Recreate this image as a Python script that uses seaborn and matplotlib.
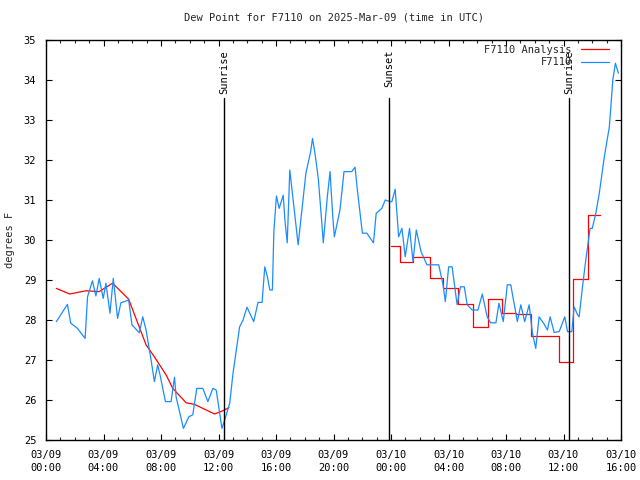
import matplotlib
matplotlib.use("Agg")
import matplotlib.pyplot as plt
import seaborn as sns
import numpy as np
from matplotlib.ticker import MultipleLocator

# ---------------- data (hours since 2025-03-09 00:00 UTC) ----------------
obs_hours = [0.72, 1.49, 1.72, 2.19, 2.72, 2.89, 3.23, 3.47, 3.70, 3.98, 4.17, 4.45, 4.68, 4.98,
             5.21, 5.75, 5.98, 6.49, 6.73, 6.96, 7.31, 7.54, 7.77, 7.93, 8.31, 8.70, 8.94, 9.05,
             9.56, 9.94, 10.21, 10.49, 10.91, 11.26, 11.61, 11.84, 12.24, 12.43, 12.78, 13.01,
             13.24, 13.47, 13.71, 13.98, 14.45, 14.75, 15.03, 15.22, 15.40, 15.57, 15.75, 15.85,
             16.03, 16.22, 16.50, 16.62, 16.78, 16.96, 17.19, 17.54, 17.78, 18.08, 18.41, 18.54,
             18.71, 18.94, 19.18, 19.29, 19.57, 19.76, 19.94, 20.06, 20.45, 20.73, 21.27, 21.50,
             21.66, 22.01, 22.32, 22.78, 22.97, 23.36, 23.60, 23.94, 24.06, 24.29, 24.53, 24.76,
             24.99, 25.29, 25.53, 25.76, 26.09, 26.50, 27.32, 27.62, 27.78, 28.01, 28.25, 28.60,
             28.83, 29.10, 29.30, 29.65, 30.05, 30.35, 30.69, 30.93, 31.30, 31.51, 31.81, 32.09,
             32.33, 32.79, 33.03, 33.30, 33.61, 33.84, 34.07, 34.30, 34.65, 34.88, 35.07, 35.35,
             35.70, 36.09, 36.28, 36.58, 36.74, 36.98, 37.09, 37.32, 37.55, 37.85, 38.00, 38.25,
             38.49, 38.84, 39.19, 39.43, 39.61, 39.82]
obs_values = [27.96, 28.39, 27.92, 27.79, 27.54, 28.58, 28.98, 28.60, 29.04, 28.54, 28.92, 28.17, 29.04, 28.04,
              28.43, 28.50, 27.88, 27.68, 28.08, 27.75, 27.00, 26.46, 26.88, 26.63, 25.96, 25.96, 26.57, 26.08,
              25.29, 25.58, 25.63, 26.29, 26.29, 25.96, 26.29, 26.25, 25.29, 25.50, 25.92, 26.67,
              27.25, 27.83, 28.00, 28.32, 27.96, 28.44, 28.44, 29.33, 29.08, 28.75, 28.75, 30.21,
              31.10, 30.79, 31.12, 30.50, 29.93, 31.75, 31.00, 29.88, 30.67, 31.67, 32.21, 32.54,
              32.17, 31.54, 30.46, 29.93, 31.08, 31.71, 30.63, 30.08, 30.75, 31.71, 31.71, 31.82,
              31.25, 30.17, 30.17, 29.93, 30.67, 30.79, 31.00, 30.96, 30.96, 31.27, 30.08, 30.29,
              29.58, 30.29, 29.46, 30.25, 29.71, 29.38, 29.38, 28.88, 28.46, 29.33, 29.33, 28.38,
              28.83, 28.83, 28.38, 28.25, 28.25, 28.65, 28.08, 27.93, 27.93, 28.42, 27.96, 28.88,
              28.88, 27.96, 28.38, 27.96, 28.38, 27.67, 27.29, 28.08, 27.90, 27.75, 28.08, 27.69,
              27.71, 28.08, 27.71, 27.71, 28.33, 28.13, 28.08, 28.83, 29.50, 30.29, 30.29, 30.67,
              31.17, 32.08, 32.83, 34.00, 34.42, 34.17]

analysis1_hours = [0.72, 1.65, 2.77, 3.70, 4.63, 5.75, 6.26, 6.96, 7.54, 8.35, 8.82, 9.75, 10.33,
                   11.73, 12.30, 12.73]
analysis1_values = [28.79, 28.65, 28.73, 28.71, 28.92, 28.52, 28.04, 27.38, 27.08, 26.63, 26.29, 25.93,
                    25.89, 25.65, 25.73, 25.81]

analysis2_hours = [24.0, 24.63, 25.55, 26.74, 27.64, 28.69, 29.67, 30.72, 31.69, 32.67, 33.72,
                   35.69, 36.66, 37.72, 38.55]
analysis2_values = [29.84, 29.46, 29.57, 29.04, 28.79, 28.39, 27.83, 28.53, 28.18, 28.15, 27.60,
                    26.94, 29.02, 30.63, 30.63]

event_hours = [12.38, 23.86, 36.38]
event_labels = ["Sunrise", "Sunset", "Sunrise"]

tick_hours = [0, 4, 8, 12, 16, 20, 24, 28, 32, 36, 40]
tick_labels = ["03/09\n00:00", "03/09\n04:00", "03/09\n08:00", "03/09\n12:00", "03/09\n16:00",
               "03/09\n20:00", "03/10\n00:00", "03/10\n04:00", "03/10\n08:00", "03/10\n12:00",
               "03/10\n16:00"]

# ---------------- style ----------------
sns.set_theme(style="ticks")
plt.rcParams['font.family'] = ['DejaVu Sans Mono']
plt.rcParams['font.size'] = 7.5
plt.rcParams['axes.linewidth'] = 1.0

RED = "#ff0000"
BLUE = "#1a8cff"

fig = plt.figure(figsize=(6.4, 4.8), dpi=100)
ax = fig.add_axes([46 / 640, 40 / 480, 575 / 640, 400 / 480])

sns.lineplot(x=analysis1_hours, y=analysis1_values, ax=ax, color=RED, lw=0.9,
             estimator=None, sort=False, label="F7110 Analysis")
sns.lineplot(x=analysis2_hours, y=analysis2_values, ax=ax, color=RED, lw=0.9,
             estimator=None, sort=False, drawstyle="steps-post")
sns.lineplot(x=obs_hours, y=obs_values, ax=ax, color=BLUE, lw=0.9,
             estimator=None, sort=False, label="F7110")

for h, lab in zip(event_hours, event_labels):
    ax.axvline(h, ymin=0, ymax=0.855, color="black", lw=1.0, zorder=5)
    ax.text(h, 34.75, lab, rotation=90, ha="center", va="top", fontsize=7.5, color="black")

ax.set_xlim(0, 40)
ax.set_ylim(25, 35)
ax.set_xticks(tick_hours)
ax.set_xticklabels(tick_labels, linespacing=1.35)
ax.xaxis.set_minor_locator(MultipleLocator(1))
ax.yaxis.set_major_locator(MultipleLocator(1))
ax.tick_params(axis="both", which="major", direction="in", length=4.5, width=0.8,
               top=True, right=True, labelsize=7.5, colors="black")
ax.tick_params(axis="x", which="major", pad=7)
ax.tick_params(axis="y", which="major", pad=7)
ax.tick_params(axis="x", which="minor", direction="in", length=2.2, width=0.8, top=True)
for s in ax.spines.values():
    s.set_color("black")
    s.set_visible(True)

ax.set_xlabel("")
ax.set_ylabel("degrees F", fontsize=7.5, labelpad=6)
ax.set_title("Dew Point for F7110 on 2025-Mar-09 (time in UTC)", fontsize=7.5, pad=14)
ax.grid(False)

handles, labels = ax.get_legend_handles_labels()
leg = ax.legend(handles, labels, loc="upper right", bbox_to_anchor=(1.0 - 8 / 575, 1.0 - 1 / 400),
                frameon=False, markerfirst=False, fontsize=7.5, handlelength=2.7,
                handletextpad=0.9, labelspacing=0.25, borderaxespad=0.0, borderpad=0.35)

fig.savefig("out.png", dpi=100)
